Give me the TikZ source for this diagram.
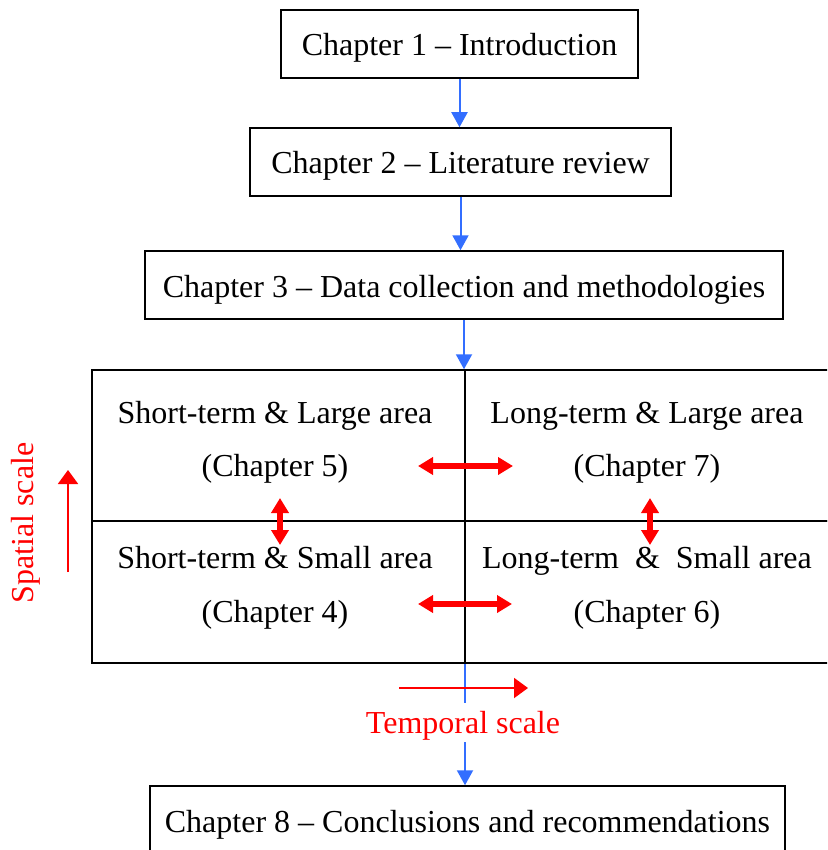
\documentclass[tikz,border=0pt]{standalone}
\usepackage{fontspec}
\setmainfont{Liberation Serif}
\usetikzlibrary{arrows.meta}
\definecolor{arrowblue}{RGB}{51,110,255}
\begin{document}
\begin{tikzpicture}[x=1pt,y=-1pt,
  box/.style={draw, line width=1.5pt, inner sep=0pt, minimum height=68pt, text height=24pt, text depth=0pt, font=\fontsize{32}{38}\selectfont},
  cell/.style={draw, line width=1.5pt, inner sep=0pt},
  txt/.style={font=\fontsize{32}{38}\selectfont, inner sep=0pt, anchor=base},
  redtxt/.style={font=\fontsize{32}{38}\selectfont, text=red, inner sep=0pt, anchor=base},
  bluearrow/.style={draw=arrowblue, line width=2pt, -{Triangle[width=16pt,length=15pt]}},
  blueline/.style={draw=arrowblue, line width=2pt},
  dblarrow/.style={draw=red, line width=5.5pt, {Triangle[width=17pt,length=15pt]}-{Triangle[width=17pt,length=15pt]}},
  scalearrow/.style={draw=red, line width=2pt, -{Triangle[width=20pt,length=14pt]}}
]
\useasboundingbox (0,0) rectangle (827,850);
\clip (0,0) rectangle (827,850);

% chapter boxes
\node[box, minimum width=357pt] (b1) at (459.5,44) {Chapter 1 -- Introduction};
\node[box, minimum width=421pt] (b2) at (460.5,162) {Chapter 2 -- Literature review};
\node[box, minimum width=638pt] (b3) at (464,285) {Chapter 3 -- Data collection and methodologies};
\node[box, minimum width=635pt] (b8) at (467.5,820) {Chapter 8 -- Conclusions and recommendations};

% grid cells
\node[cell, minimum width=373pt, minimum height=151pt] (c5) at (278.5,445.5) {};
\node[cell, minimum width=375pt, minimum height=151pt] (c7) at (652.5,445.5) {};
\node[cell, minimum width=373pt, minimum height=142pt] (c4) at (278.5,592) {};
\node[cell, minimum width=375pt, minimum height=142pt] (c6) at (652.5,592) {};

% cell texts
\node[txt] (t5a) at (275,423) {Short-term \& Large area};
\node[txt] (t5b) at (275,476) {(Chapter 5)};
\node[txt] (t7a) at (647,423) {Long-term \& Large area};
\node[txt] (t7b) at (647,476) {(Chapter 7)};
\node[txt] (t4a) at (275,568) {Short-term \& Small area};
\node[txt] (t4b) at (275,622) {(Chapter 4)};
\node[txt] (t6a) at (647,568) {Long-term~~\&~~Small area};
\node[txt] (t6b) at (647,622) {(Chapter 6)};

% blue flow arrows
\draw[bluearrow] (b1.south) -- (b1.south |- b2.north);
\draw[bluearrow] (b2.south) -- (b2.south |- b3.north);
\draw[bluearrow] (b3.south) -- (b3.south |- c5.north);

% temporal scale
\node[redtxt] (tl) at (463,733) {Temporal scale};
\coordinate (tg1) at (465,703);
\coordinate (tg2) at (465,742);
\draw[blueline] (tg1 |- c4.south) -- (tg1);
\draw[bluearrow] (tg2) -- (tg2 |- b8.north);
\coordinate (ta) at (399,688);
\coordinate (tb) at (528,688);
\draw[scalearrow] (ta) -- (tb);

% spatial scale
\node[redtxt, rotate=90] (sl) at (33,523) {Spatial scale};
\coordinate (sa) at (68,572);
\coordinate (sb) at (68,470);
\draw[scalearrow] (sa) -- (sb);

% red double arrows
\coordinate (h1a) at (418,466); \coordinate (h1b) at (513,466);
\coordinate (h2a) at (418,604); \coordinate (h2b) at (512,604);
\coordinate (v1a) at (280,498); \coordinate (v1b) at (280,545);
\coordinate (v2a) at (650,498); \coordinate (v2b) at (650,545);
\draw[dblarrow] (h1a) -- (h1b);
\draw[dblarrow] (h2a) -- (h2b);
\draw[dblarrow] (v1a) -- (v1b);
\draw[dblarrow] (v2a) -- (v2b);
\end{tikzpicture}
\end{document}
